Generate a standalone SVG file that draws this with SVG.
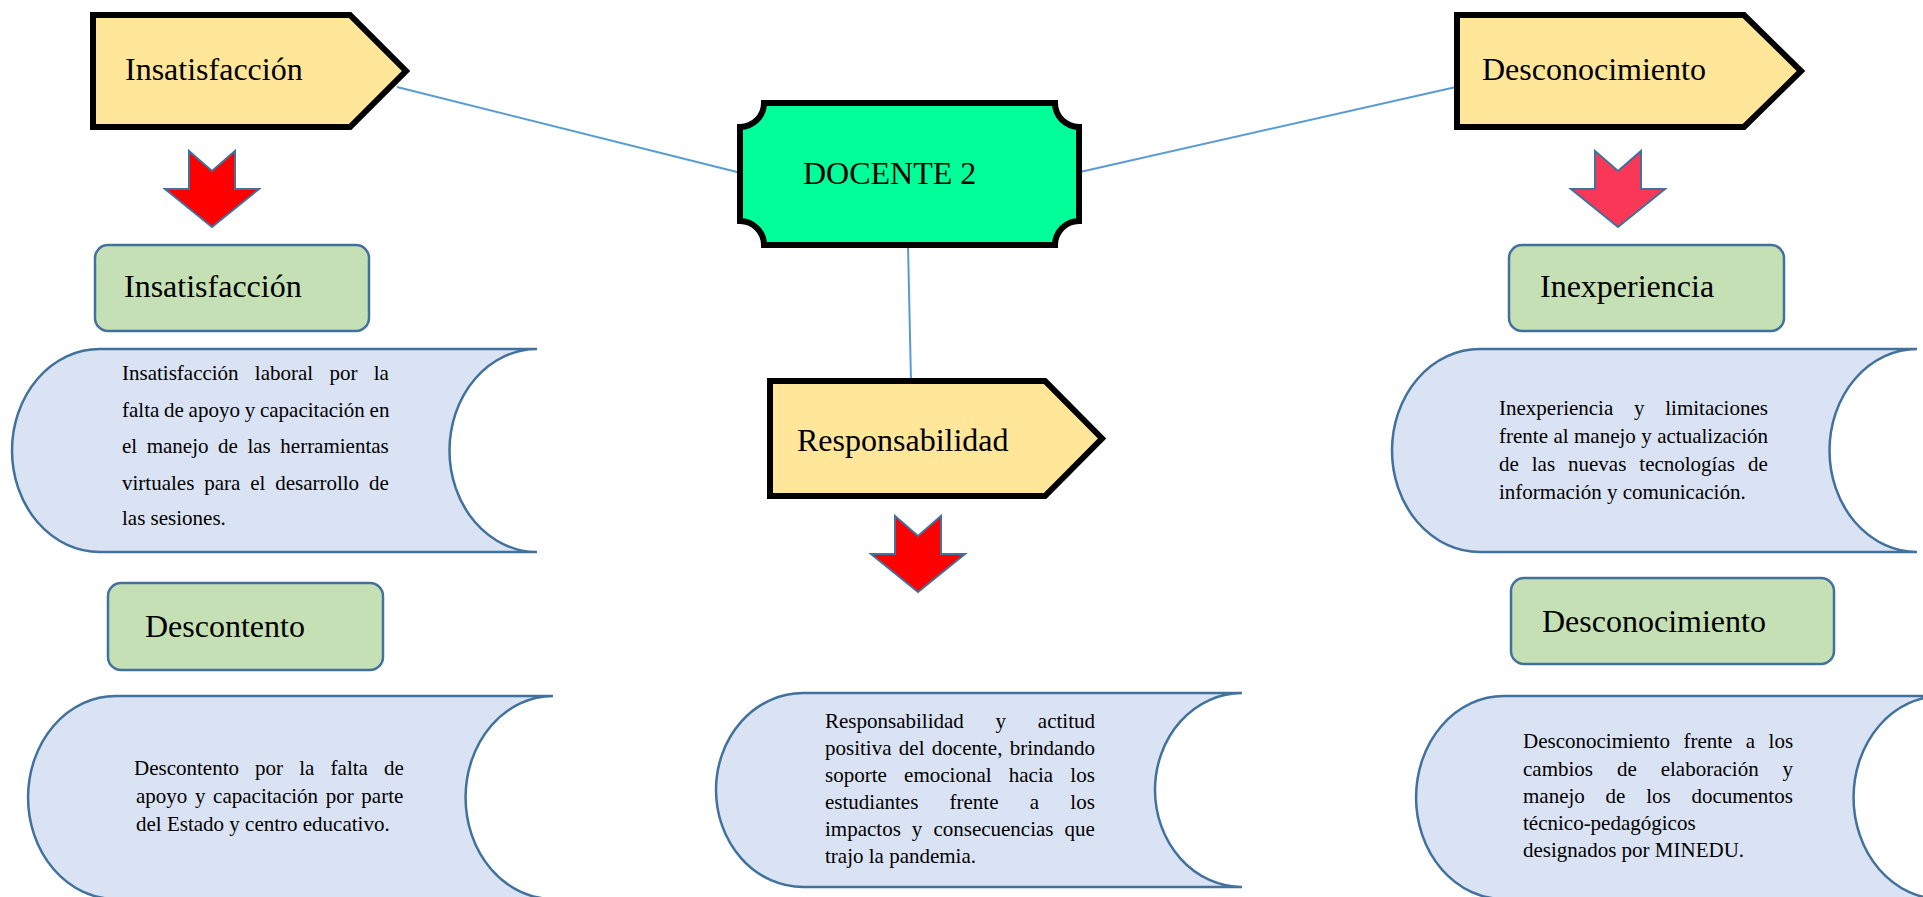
<svg xmlns="http://www.w3.org/2000/svg" width="1923" height="897" viewBox="0 0 1923 897">
<style>
.pent{fill:#FFE699;stroke:#000;stroke-width:6;stroke-linejoin:miter}
.plaque{fill:#00FF99;stroke:#000;stroke-width:6}
.green{fill:#C5E0B4;stroke:#41719C;stroke-width:2.5}
.scroll{fill:#DAE3F3;stroke:#41719C;stroke-width:2.5}
.conn{stroke:#5B9BD5;stroke-width:2;fill:none}
.arrowR{fill:#FF0000;stroke:#41719C;stroke-width:2}
.arrowP{fill:#F93857;stroke:#41719C;stroke-width:2}
.big{font-family:"Liberation Serif","Times New Roman",serif;font-size:32px;fill:#000}
.body{font-family:"Liberation Serif","Times New Roman",serif;font-size:21px;fill:#000}
</style>
<defs>
<path id="darrow" d="M-23,0 L0,20 L23,0 L23,38 L47,38 L0,76 L-47,38 L-23,38 Z"/>
</defs>
<rect width="1923" height="897" fill="#fff"/>
<g id="connectors">
<line class="conn" x1="397" y1="87" x2="741" y2="173"/>
<line class="conn" x1="1080" y1="172" x2="1456" y2="87"/>
<line class="conn" x1="908" y1="245" x2="911" y2="381"/>
</g>
<g id="docente">
<path class="plaque" d="M764,103 L1055,103 A24,24 0 0 0 1079,127 L1079,221 A24,24 0 0 0 1055,245 L764,245 A24,24 0 0 0 740,221 L740,127 A24,24 0 0 0 764,103 Z"/>
<text class="big" x="803" y="184">DOCENTE 2</text>
</g>
<g id="pent-insatisfaccion">
<path class="pent" d="M93,15 L350,15 L406,71 L350,127 L93,127 Z"/>
<text class="big" x="125" y="80">Insatisfacción</text>
</g>
<g id="pent-desconocimiento">
<path class="pent" d="M1457,15 L1744,15 L1801,71 L1744,127 L1457,127 Z"/>
<text class="big" x="1482" y="80">Desconocimiento</text>
</g>
<g id="pent-responsabilidad">
<path class="pent" d="M770,381 L1045,381 L1102,438.5 L1045,496 L770,496 Z"/>
<text class="big" x="797" y="451">Responsabilidad</text>
</g>
<g id="arrow-left"><use href="#darrow" class="arrowR" transform="translate(212,151)"/></g>
<g id="arrow-right"><use href="#darrow" class="arrowP" transform="translate(1618,151)"/></g>
<g id="arrow-middle"><use href="#darrow" class="arrowR" transform="translate(918,516)"/></g>
<g id="green-insatisfaccion">
<rect class="green" x="95" y="245" width="274" height="86" rx="13"/>
<text class="big" x="124" y="297">Insatisfacción</text>
</g>
<g id="green-inexperiencia">
<rect class="green" x="1509" y="245" width="275" height="86" rx="13"/>
<text class="big" x="1540" y="297">Inexperiencia</text>
</g>
<g id="green-descontento">
<rect class="green" x="108" y="583" width="275" height="87" rx="13"/>
<text class="big" x="145" y="637">Descontento</text>
</g>
<g id="green-desconocimiento">
<rect class="green" x="1511" y="578" width="323" height="86" rx="13"/>
<text class="big" x="1542" y="632">Desconocimiento</text>
</g>
<g id="scroll-insatisfaccion">
<path class="scroll" d="M99.5,349 L537,349 A87.5,101.5 0 0 0 537,552 L99.5,552 A87.5,101.5 0 0 1 99.5,349 Z"/>
<text class="body" x="122" y="380" word-spacing="11">Insatisfacción laboral por la</text>
<text class="body" x="122" y="417" word-spacing="-0.5">falta de apoyo y capacitación en</text>
<text class="body" x="122" y="453" word-spacing="4.3">el manejo de las herramientas</text>
<text class="body" x="122" y="490" word-spacing="4.6">virtuales para el desarrollo de</text>
<text class="body" x="122" y="525">las sesiones.</text>
</g>
<g id="scroll-descontento">
<path class="scroll" d="M115.5,696 L553,696 A87.5,101.5 0 0 0 553,899 L115.5,899 A87.5,101.5 0 0 1 115.5,696 Z"/>
<text class="body" x="134" y="775" word-spacing="10.9">Descontento por la falta de</text>
<text class="body" x="136" y="803" word-spacing="2.4">apoyo y capacitación por parte</text>
<text class="body" x="136" y="831">del Estado y centro educativo.</text>
</g>
<g id="scroll-responsabilidad">
<path class="scroll" d="M803,693 L1242,693 A87,97 0 0 0 1242,887 L803,887 A87,97 0 0 1 803,693 Z"/>
<text class="body" x="825" y="728" word-spacing="26.5">Responsabilidad y actitud</text>
<text class="body" x="825" y="755" word-spacing="2.1">positiva del docente, brindando</text>
<text class="body" x="825" y="782" word-spacing="12">soporte emocional hacia los</text>
<text class="body" x="825" y="809" word-spacing="26">estudiantes frente a los</text>
<text class="body" x="825" y="836" word-spacing="5.8">impactos y consecuencias que</text>
<text class="body" x="825" y="863">trajo la pandemia.</text>
</g>
<g id="scroll-inexperiencia">
<path class="scroll" d="M1479.5,349 L1917,349 A87.5,101.5 0 0 0 1917,552 L1479.5,552 A87.5,101.5 0 0 1 1479.5,349 Z"/>
<text class="body" x="1499" y="415" word-spacing="15.5">Inexperiencia y limitaciones</text>
<text class="body" x="1499" y="443" word-spacing="0.2">frente al manejo y actualización</text>
<text class="body" x="1499" y="471" word-spacing="7.7">de las nuevas tecnologías de</text>
<text class="body" x="1499" y="499">información y comunicación.</text>
</g>
<g id="scroll-desconocimiento">
<path class="scroll" d="M1503.5,696 L1941,696 A87.5,101.5 0 0 0 1941,899 L1503.5,899 A87.5,101.5 0 0 1 1503.5,696 Z"/>
<text class="body" x="1523" y="748" word-spacing="8.2">Desconocimiento frente a los</text>
<text class="body" x="1523" y="776" word-spacing="18.7">cambios de elaboración y</text>
<text class="body" x="1523" y="803" word-spacing="15.5">manejo de los documentos</text>
<text class="body" x="1523" y="830">técnico-pedagógicos</text>
<text class="body" x="1523" y="857">designados por MINEDU.</text>
</g>
</svg>
